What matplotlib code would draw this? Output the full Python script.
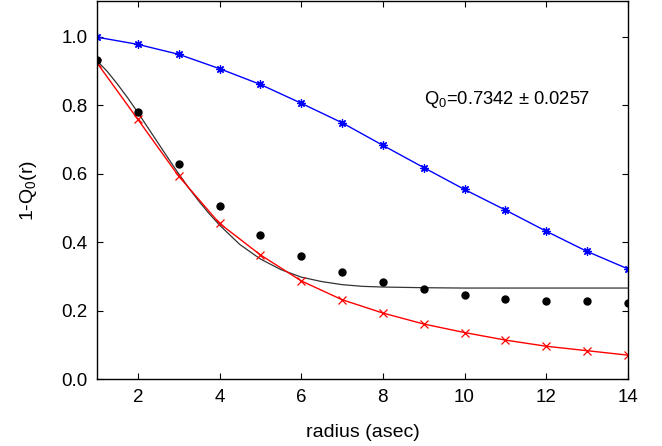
import numpy as np
import matplotlib
matplotlib.use("Agg")
import matplotlib.pyplot as plt

plt.rcParams['font.family'] = ['Liberation Sans', 'DejaVu Sans']
plt.rcParams['mathtext.fontset'] = 'custom'
plt.rcParams['mathtext.rm'] = 'Liberation Sans'
plt.rcParams['mathtext.it'] = 'Liberation Sans:italic'

# data
radius = [1, 2, 3, 4, 5, 6, 7, 8, 9, 10, 11, 12, 13, 14]
blue = [0.999, 0.978, 0.949, 0.907, 0.861, 0.806, 0.749, 0.683, 0.618, 0.554, 0.494, 0.432, 0.373, 0.322]
red = [0.924, 0.759, 0.593, 0.455, 0.363, 0.287, 0.232, 0.193, 0.161, 0.136, 0.114, 0.096, 0.083, 0.070]
dots = [0.932, 0.781, 0.627, 0.505, 0.422, 0.361, 0.314, 0.284, 0.262, 0.246, 0.235, 0.227, 0.227, 0.222]

# fitted curve
fit_r = [1, 1.25, 1.5, 1.75, 2, 2.25, 2.5, 2.75, 3, 3.25, 3.5, 3.75, 4, 4.5, 5, 5.5, 6,
         6.5, 7, 7.5, 8, 9, 10, 11, 12, 13, 14]
fit_v = [0.930, 0.899, 0.862, 0.822, 0.779, 0.734, 0.689, 0.644, 0.600, 0.558, 0.519,
         0.483, 0.450, 0.393, 0.351, 0.320, 0.298,
         0.285, 0.276, 0.271, 0.269, 0.267, 0.266, 0.266, 0.266, 0.266, 0.266]

fig = plt.figure(figsize=(6.62, 4.46), dpi=100)
ax = fig.add_axes([0.1465, 0.150, 0.802, 0.848])

ax.plot(fit_r, fit_v, color='#333333', lw=0.9)
ax.plot(radius, red, color='red', lw=1.0, marker='x', ms=6, mew=0.9)
ax.plot(radius, blue, color='blue', lw=1.0, marker=(8, 2, 0), ms=6, mew=0.9)
ax.plot(radius, dots, 'o', color='black', ms=5, ls='none')

ax.text(9.0, 0.816, r'Q$_0$=0.7342 $\pm$ 0.0257', fontsize=13.2, va='center', ha='left')

ax.set_xlim(1, 14)
ax.set_ylim(0, 1.105)
ax.set_xticks([2, 4, 6, 8, 10, 12, 14])
ax.set_yticks([0.0, 0.2, 0.4, 0.6, 0.8, 1.0])
ax.set_yticklabels(['0.0', '0.2', '0.4', '0.6', '0.8', '1.0'])
ax.tick_params(direction='in', length=4, top=True, right=True, labelsize=13.5, pad=7)
for s in ax.spines.values():
    s.set_linewidth(1.0)

ax.set_xlabel('radius (asec)', fontsize=14, labelpad=13)
ax.set_ylabel(r'1-Q$_0$(r)', fontsize=14, labelpad=16)

fig.savefig('out.png', dpi=100)
